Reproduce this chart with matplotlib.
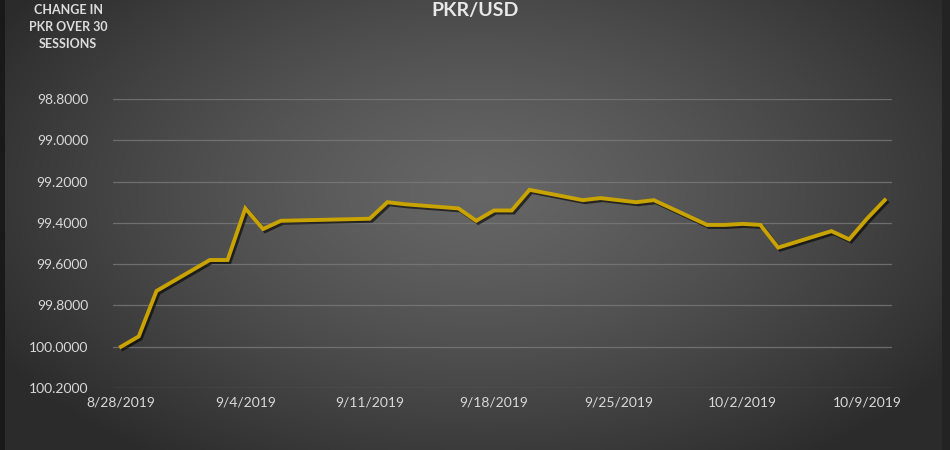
import numpy as np
import matplotlib
matplotlib.use("Agg")
import matplotlib.pyplot as plt
import matplotlib.patheffects as pe
import datetime as dt

# ---- data ----
dates = ["2019-08-28", "2019-08-29", "2019-08-30", "2019-09-02", "2019-09-03",
         "2019-09-04", "2019-09-05", "2019-09-06", "2019-09-11", "2019-09-12",
         "2019-09-13", "2019-09-16", "2019-09-17", "2019-09-18", "2019-09-19",
         "2019-09-20", "2019-09-23", "2019-09-24", "2019-09-25", "2019-09-26",
         "2019-09-27", "2019-09-30", "2019-10-01", "2019-10-02", "2019-10-03",
         "2019-10-04", "2019-10-07", "2019-10-08", "2019-10-09", "2019-10-10"]
rates = [100.00, 99.95, 99.73, 99.58, 99.58,
         99.33, 99.43, 99.39, 99.38, 99.30,
         99.31, 99.33, 99.39, 99.34, 99.34,
         99.24, 99.29, 99.28, 99.29, 99.30,
         99.29, 99.41, 99.41, 99.405, 99.41,
         99.52, 99.44, 99.48, 99.38, 99.29]
yticks = [98.8, 99.0, 99.2, 99.4, 99.6, 99.8, 100.0, 100.2]
xtick_dates = ["2019-08-28", "2019-09-04", "2019-09-11", "2019-09-18",
               "2019-09-25", "2019-10-02", "2019-10-09"]
title = "PKR/USD"
ytitle = "CHANGE IN\nPKR OVER 30\nSESSIONS"

x = [dt.datetime.strptime(d, "%Y-%m-%d") for d in dates]
xt = [dt.datetime.strptime(d, "%Y-%m-%d") for d in xtick_dates]

plt.rcParams['font.family'] = ['Lato', 'DejaVu Sans']

W, H = 950, 450
fig = plt.figure(figsize=(9.5, 4.5), dpi=100)

# background radial gradient
bg = fig.add_axes([0, 0, 1, 1], zorder=0)
yy, xx = np.mgrid[0:H, 0:W]
cx, cy = 480, 190
r = np.sqrt(((xx - cx) / 560.0) ** 2 + ((yy - cy) / 330.0) ** 2)
r = np.clip(r, 0, 1)
c_in, c_out = 0.40, 0.17
val = c_in + (c_out - c_in) * r ** 1.3
img = np.dstack([val, val, val])
img[:, :5, :] = 0.10
img[:, 942:, :] = 0.14
bg.imshow(img, aspect='auto', extent=[0, 1, 0, 1], origin='upper')
bg.axis('off')

ax = fig.add_axes([113 / W, 1 - 388 / H, (892 - 113) / W, (388 - 99) / H], zorder=1)
ax.patch.set_alpha(0)
for s in ax.spines.values():
    s.set_visible(False)

x0 = dt.datetime(2019, 8, 28) - dt.timedelta(days=0.45)
x1 = dt.datetime(2019, 8, 28) + dt.timedelta(days=43.41)
ax.set_xlim(x0, x1)
ax.set_ylim(100.2, 98.8)
ax.set_yticks(yticks)
ax.set_yticklabels([f"{v:.4f}" for v in yticks])
ax.set_xticks(xt)
ax.set_xticklabels([f"{d.month}/{d.day}/{d.year}" for d in xt])
ax.tick_params(axis='both', length=0, colors='#d9d9d9', labelsize=10)
ax.tick_params(axis='y', pad=18)
ax.tick_params(axis='x', pad=6)
ax.grid(axis='y', color='#7a7a7a', linewidth=0.9, alpha=0.8)
ax.set_axisbelow(True)

ax.plot(x, rates, color='#C9A300', linewidth=2.8, solid_joinstyle='miter',
        path_effects=[pe.SimpleLineShadow(offset=(1.5, -1.5), shadow_color='black', alpha=0.6),
                      pe.Normal()], zorder=3)

fig.text(475 / W, 1 - 2 / H, title, ha='center', va='top', fontsize=14,
         fontweight='bold', color='#e8e8e8')
fig.text(68 / W, 1 - 27 / H, ytitle, ha='center', va='center', fontsize=9,
         fontweight='bold', color='#dcdcdc', linespacing=1.45)

fig.savefig("out.png", dpi=100)
